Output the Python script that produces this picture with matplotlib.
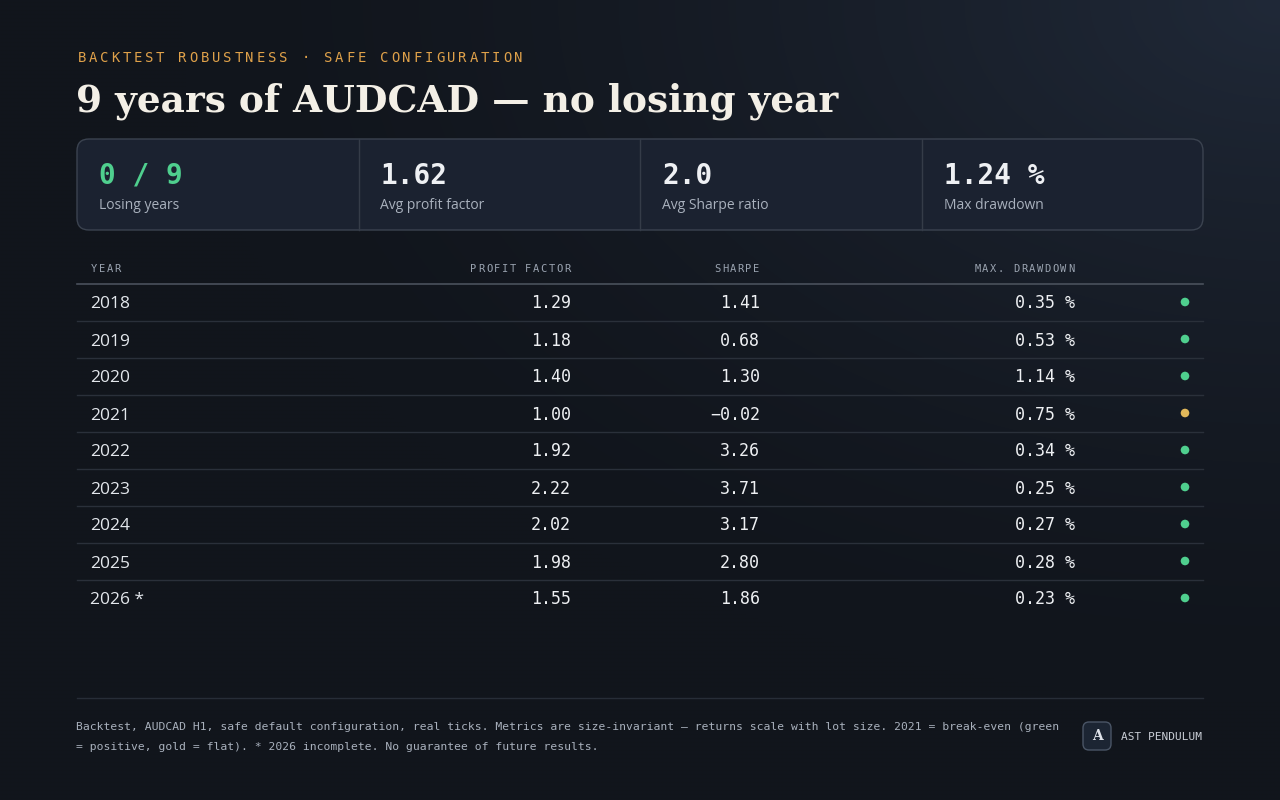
import numpy as np
import matplotlib
matplotlib.use("Agg")
import matplotlib.pyplot as plt
from matplotlib.patches import FancyBboxPatch, Circle

# -------- DATA --------
years = ["2018", "2019", "2020", "2021", "2022", "2023", "2024", "2025", "2026 *"]
profit_factor = [1.29, 1.18, 1.40, 1.00, 1.92, 2.22, 2.02, 1.98, 1.55]
sharpe = [1.41, 0.68, 1.30, -0.02, 3.26, 3.71, 3.17, 2.80, 1.86]
max_dd = [0.35, 0.53, 1.14, 0.75, 0.34, 0.25, 0.27, 0.28, 0.23]
status = ["pos", "pos", "pos", "flat", "pos", "pos", "pos", "pos", "pos"]

kpi_values = ["0 / 9", "1.62", "2.0", "1.24 %"]
kpi_labels = ["Losing years", "Avg profit factor", "Avg Sharpe ratio", "Max drawdown"]
col_headers = ["YEAR", "PROFIT FACTOR", "SHARPE", "MAX. DRAWDOWN"]

eyebrow = "BACKTEST ROBUSTNESS · SAFE CONFIGURATION"
title = "9 years of AUDCAD — no losing year"
footer_lines = [
    "Backtest, AUDCAD H1, safe default configuration, real ticks. Metrics are size-invariant — returns scale with lot size. 2021 = break-even (green",
    "= positive, gold = flat). * 2026 incomplete. No guarantee of future results.",
]
brand = "AST PENDULUM"

# -------- STYLE --------
GREEN = "#4fcf8e"
GOLD = "#e2b85a"
ORANGE = "#dfa14a"
TEXT = "#eef0f3"
MUTED = "#a9b1bd"
MONO = "DejaVu Sans Mono"
SANS = "Open Sans"
dot_colors = {"pos": GREEN, "flat": GOLD}

W, H = 1280, 800
fig = plt.figure(figsize=(W / 100, H / 100), dpi=100)
ax = fig.add_axes([0, 0, 1, 1])
ax.set_xlim(0, W)
ax.set_ylim(H, 0)
ax.axis("off")

# background: dark with a soft lighter glow at the top right
yy, xx = np.mgrid[0:H:4, 0:W:4]
d = np.sqrt(((xx - W) / 1100.0) ** 2 + (yy / 700.0) ** 2)
t = np.clip(1 - d, 0, 1) ** 1.5
c0 = np.array([0x11, 0x15, 0x1c]) / 255
c1 = np.array([0x20, 0x29, 0x38]) / 255
img = c0 + (c1 - c0) * t[..., None]
ax.imshow(img, extent=(0, W, H, 0), aspect="auto", zorder=0, interpolation="bilinear")


def spaced(x, y, s, step, ha="left", **kw):
    # monospace text with extra letter spacing, drawn char by char
    n = len(s)
    if ha == "right":
        x0 = x - n * step
    else:
        x0 = x
    for i, ch in enumerate(s):
        ax.text(x0 + (i + 0.5) * step, y, ch, ha="center", va="baseline", **kw)


# -------- HEADER --------
spaced(76, 62, eyebrow, 11.2, fontsize=10, family=MONO, color=ORANGE)
ax.text(76, 112, title, fontsize=27, family="DejaVu Serif", weight="bold",
        color="#f3efe6", va="baseline", ha="left")

# -------- KPI CARD --------
card = FancyBboxPatch((77, 139), 1126, 91, boxstyle="round,pad=0,rounding_size=12",
                      fc="#1b2230", ec="#3b4350", lw=1, zorder=1)
ax.add_patch(card)
cell_w = 1126 / 4
for i in range(4):
    x = 77 + i * cell_w
    if i > 0:
        ax.plot([x, x], [139, 230], color="#353c48", lw=1, zorder=2)
    ax.text(x + 22, 184, kpi_values[i], fontsize=20, family=MONO, weight="bold",
            color=GREEN if i == 0 else TEXT, va="baseline", ha="left", zorder=3)
    ax.text(x + 22, 209, kpi_labels[i], fontsize=10, family=SANS,
            color=MUTED, va="baseline", ha="left", zorder=3)

# -------- TABLE --------
x_year, x_pf, x_sh, x_dd, x_dot = 90, 571, 760, 1075, 1185
head_kw = dict(fontsize=7.5, family=MONO, color="#9aa3b0")
spaced(x_year, 272, col_headers[0], 7.8, **head_kw)
spaced(x_pf, 272, col_headers[1], 7.8, ha="right", **head_kw)
spaced(x_sh, 272, col_headers[2], 7.8, ha="right", **head_kw)
spaced(x_dd, 272, col_headers[3], 7.8, ha="right", **head_kw)
ax.plot([77, 1203], [283.5, 283.5], color="#4a515c", lw=1.2)

row_h = 37
for i, yr in enumerate(years):
    yc = 302 + i * row_h
    yb = yc + 6.5
    ax.text(x_year, yb, yr, fontsize=12.5, family=SANS, color="#e3e7ec", va="baseline", ha="left")
    ax.text(x_pf, yb, f"{profit_factor[i]:.2f}", fontsize=12, family=MONO, color=TEXT,
            va="baseline", ha="right")
    sh = f"{sharpe[i]:.2f}".replace("-", "\u2212")
    ax.text(x_sh, yb, sh, fontsize=12, family=MONO, color=TEXT, va="baseline", ha="right")
    ax.text(x_dd, yb, f"{max_dd[i]:.2f} %", fontsize=12, family=MONO, color=TEXT,
            va="baseline", ha="right")
    ax.add_patch(Circle((x_dot, yc), 4.3, fc=dot_colors[status[i]], ec="none", zorder=3))
    if i < len(years) - 1:
        ax.plot([77, 1203], [yc + 18.5, yc + 18.5], color="#2a303a", lw=1)

# -------- FOOTER --------
ax.plot([77, 1203], [697.5, 697.5], color="#272d37", lw=1)
for j, line in enumerate(footer_lines):
    ax.text(76, 730 + j * 20, line, fontsize=8.2, family=MONO, color=MUTED,
            va="baseline", ha="left")

logo = FancyBboxPatch((1083, 722), 28, 28, boxstyle="round,pad=0,rounding_size=6",
                      fc="#1c2533", ec="#4a5566", lw=1, zorder=2)
ax.add_patch(logo)
ax.text(1097, 736.5, "A", fontsize=10, family="DejaVu Serif", weight="bold",
        color="#dfe3ea", ha="center", va="center", zorder=3)
ax.text(1121, 740, brand, fontsize=8, family=MONO, color="#c9ced6", va="baseline", ha="left")

fig.savefig("out.png", dpi=100, facecolor="#11151c")
